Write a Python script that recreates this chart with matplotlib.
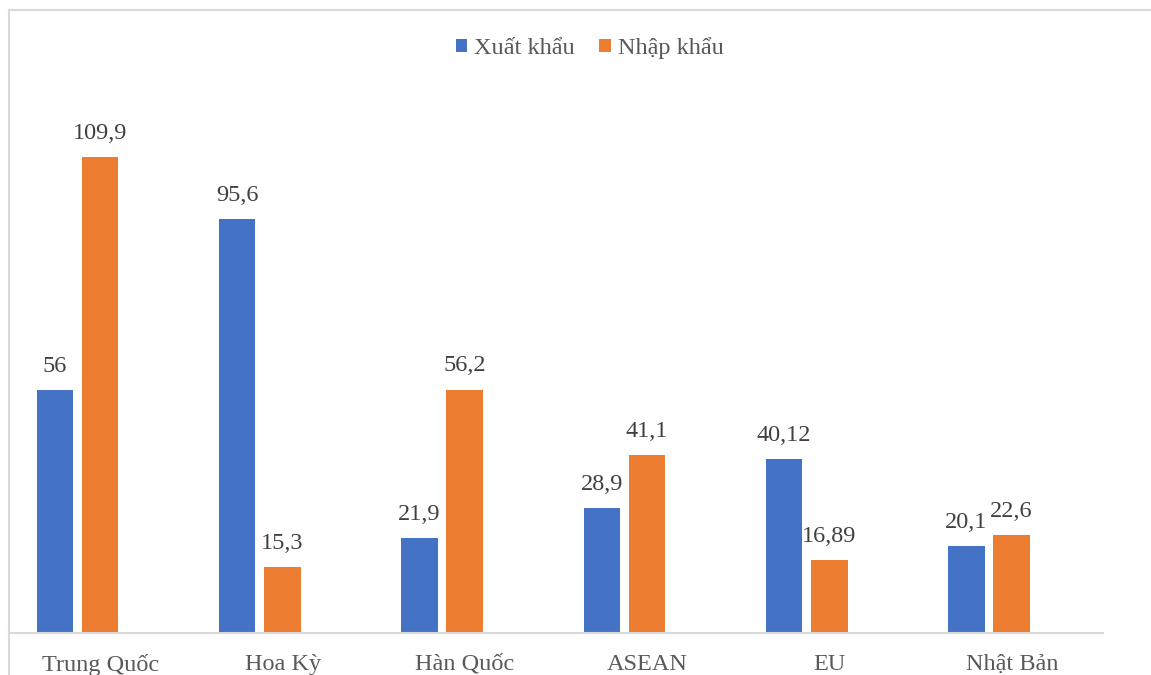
import matplotlib
matplotlib.use("Agg")
import matplotlib.pyplot as plt
from matplotlib.lines import Line2D
import numpy as np

categories = ["Trung Quốc", "Hoa Kỳ", "Hàn Quốc", "ASEAN", "EU", "Nhật Bản"]
export_vals = [56, 95.6, 21.9, 28.9, 40.12, 20.1]
import_vals = [109.9, 15.3, 56.2, 41.1, 16.89, 22.6]
export_labels = ["56", "95,6", "21,9", "28,9", "40,12", "20,1"]
import_labels = ["109,9", "15,3", "56,2", "41,1", "16,89", "22,6"]
series_names = ["Xuất khẩu", "Nhập khẩu"]

BLUE = "#4472C4"
ORANGE = "#ED7D31"
TEXT = "#595959"
LABEL = "#404040"
GRID = "#D9D9D9"

plt.rcParams["font.family"] = ["Liberation Serif", "DejaVu Serif"]

W, H = 1151, 675
fig = plt.figure(figsize=(W / 100, H / 100), dpi=100)

# plot area in pixel terms
left_px, right_px = 9, 1103
base_px, top_px = 633, 90
ax = fig.add_axes([left_px / W, (H - base_px) / H,
                   (right_px - left_px) / W, (base_px - top_px) / H])

x = np.arange(len(categories))
width = 0.2
offset = 0.124

b1 = ax.bar(x - offset, export_vals, width, color=BLUE, label=series_names[0])
b2 = ax.bar(x + offset, import_vals, width, color=ORANGE, label=series_names[1])

ax.bar_label(b1, labels=export_labels, padding=9.5, fontsize=17.5, color=LABEL)
ax.bar_label(b2, labels=import_labels, padding=9.5, fontsize=17.5, color=LABEL)

# category spacing of 182.3 px, first centre at 77.5 px
step = 182.3
ax.set_xlim((left_px - 77.5) / step, (right_px - 77.5) / step)
px_per_unit = 4.331
ax.set_ylim(0, (base_px - top_px) / px_per_unit)

# category names sit a little right of each bar pair
label_shift = 23 / step
ax.set_xticks(x + label_shift)
ax.set_xticklabels(categories, fontsize=17.5, color=TEXT)
ax.tick_params(axis="x", length=0, pad=15)
ax.set_yticks([])
for s in ["top", "right", "left"]:
    ax.spines[s].set_visible(False)
ax.spines["bottom"].set_color(GRID)
ax.spines["bottom"].set_linewidth(1.5)
ax.set_facecolor("none")

fig.legend(handles=[b1, b2], labels=series_names, loc="center",
           bbox_to_anchor=(589.5 / W, 1 - 48 / H), ncol=2, frameon=False,
           fontsize=17.5, labelcolor=TEXT, handlelength=0.48, handleheight=0.48,
           handletextpad=0.28, columnspacing=1.0)

# chart frame (top and left edges)
fig.add_artist(Line2D([9 / W, 1.0], [1 - 10 / H, 1 - 10 / H],
                      transform=fig.transFigure, color=GRID, lw=1.5))
fig.add_artist(Line2D([9 / W, 9 / W], [0.0, 1 - 10 / H],
                      transform=fig.transFigure, color=GRID, lw=1.5))

fig.savefig("out.png", dpi=100, facecolor="white")
